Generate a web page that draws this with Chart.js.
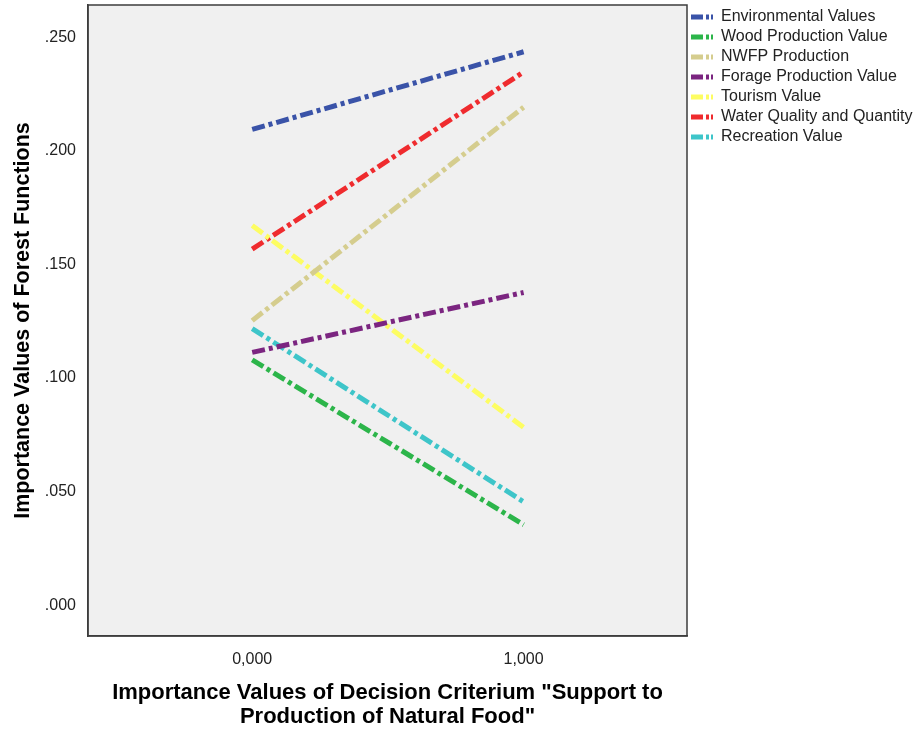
<!DOCTYPE html>
<html>
<head>
<meta charset="utf-8">
<script src="https://cdn.jsdelivr.net/npm/chart.js@4"></script>
<style>
  html, body { margin: 0; padding: 0; background: #fff; }
  #wrap { width: 916px; height: 729px; }
</style>
</head>
<body>
<div id="wrap"><canvas id="forestChart" width="916" height="729"></canvas></div>
<script>
const criterionLevels = [0, 1];
const xTickLabels = ["0,000", "1,000"];
const yTickValues = [0, 0.05, 0.1, 0.15, 0.2, 0.25];

const environmental = [0.2095, 0.2437];
const woodProduction = [0.1080, 0.0354];
const nwfpProduction = [0.1253, 0.2193];
const forageProduction = [0.1113, 0.1377];
const tourism = [0.1672, 0.0783];
const waterQuality = [0.1568, 0.2348];
const recreation = [0.1218, 0.0455];

const seriesNames = [
  "Environmental Values", "Wood Production Value", "NWFP Production",
  "Forage Production Value", "Tourism Value", "Water Quality and Quantity", "Recreation Value"
];
const seriesValues = [environmental, woodProduction, nwfpProduction, forageProduction, tourism, waterQuality, recreation];
const seriesColors = ["#3a53a8", "#2cb54a", "#d5cd8e", "#7b2580", "#fdfd62", "#ef2b2e", "#3ec5c9"];
const dashPattern = [13, 4, 4, 4];
const legendDash = [12, 3, 3, 2, 3, 20];

const datasets = seriesNames.map((name, i) => ({
  label: name,
  data: criterionLevels.map((x, j) => ({ x: x, y: seriesValues[i][j] })),
  borderColor: seriesColors[i],
  backgroundColor: seriesColors[i],
  borderWidth: 5,
  borderDash: dashPattern,
  pointRadius: 0,
  fill: false,
  tension: 0,
  pointStyle: "line",
}));

// grey plot background + frame around it
const plotFrame = {
  id: "plotFrame",
  beforeDraw(chart) {
    const a = chart.chartArea, c = chart.ctx;
    c.save();
    c.fillStyle = "#f0f0f0";
    c.fillRect(a.left, a.top, a.right - a.left, a.bottom - a.top);
    c.restore();
  },
  afterDraw(chart) {
    const a = chart.chartArea, c = chart.ctx;
    c.save();
    c.strokeStyle = "#3c3c3c";
    c.lineWidth = 1.5;
    c.strokeRect(a.left, a.top, a.right - a.left, a.bottom - a.top);
    c.restore();
  }
};

const baseFont = "Arial, 'Liberation Sans', sans-serif";

const ctx = document.getElementById("forestChart").getContext("2d");
new Chart(ctx, {
  type: "line",
  data: { datasets: datasets },
  plugins: [plotFrame],
  options: {
    responsive: false,
    animation: false,
    layout: { padding: { top: 5, right: 0, left: 0, bottom: 0 } },
    plugins: {
      legend: {
        position: "right",
        align: "start",
        labels: {
          usePointStyle: true,
          pointStyleWidth: 22,
          boxHeight: 14,
          padding: 4,
          color: "#222",
          font: { family: baseFont, size: 16 },
          generateLabels(chart) {
            const items = Chart.defaults.plugins.legend.labels.generateLabels(chart);
            items.forEach(it => { it.lineDash = legendDash; it.lineWidth = 5; });
            return items;
          },
        },
      },
      tooltip: { enabled: false },
    },
    scales: {
      x: {
        type: "linear",
        min: -0.605,
        max: 1.602,
        afterBuildTicks: (axis) => { axis.ticks = criterionLevels.map(v => ({ value: v })); },
        afterFit: (axis) => { axis.height = 93; axis.paddingLeft = 0; axis.paddingRight = 0; },
        grid: { display: false, drawOnChartArea: false, drawTicks: true, tickLength: 6, color: "#3c3c3c" },
        border: { display: true, color: "#3c3c3c", width: 1.5 },
        ticks: {
          callback: (v) => xTickLabels[criterionLevels.indexOf(v)],
          color: "#222",
          padding: 8,
          maxRotation: 0,
          font: { family: baseFont, size: 16 },
        },
        title: {
          display: true,
          text: ["Importance Values of Decision Criterium \"Support to", "Production of Natural Food\""],
          color: "#000",
          padding: { top: 0, bottom: 0 },
          font: { family: baseFont, size: 22, weight: "bold", lineHeight: 1.1 },
        },
      },
      y: {
        min: -0.0136,
        max: 0.2643,
        afterBuildTicks: (axis) => { axis.ticks = yTickValues.map(v => ({ value: v })); },
        afterFit: (axis) => { axis.width = 88; axis.paddingTop = 0; axis.paddingBottom = 0; },
        grid: { display: false, drawOnChartArea: false, drawTicks: true, tickLength: 9, color: "#3c3c3c" },
        border: { display: true, color: "#3c3c3c", width: 1.5 },
        ticks: {
          callback: (v) => v.toFixed(3).replace(/^0/, ""),
          color: "#222",
          padding: 3,
          font: { family: baseFont, size: 16 },
        },
        title: {
          display: true,
          text: "Importance Values of Forest Functions",
          color: "#000",
          padding: { top: 10, bottom: 0 },
          font: { family: baseFont, size: 21.5, weight: "bold", lineHeight: 1.2 },
        },
      },
    },
  },
});
</script>
</body>
</html>
